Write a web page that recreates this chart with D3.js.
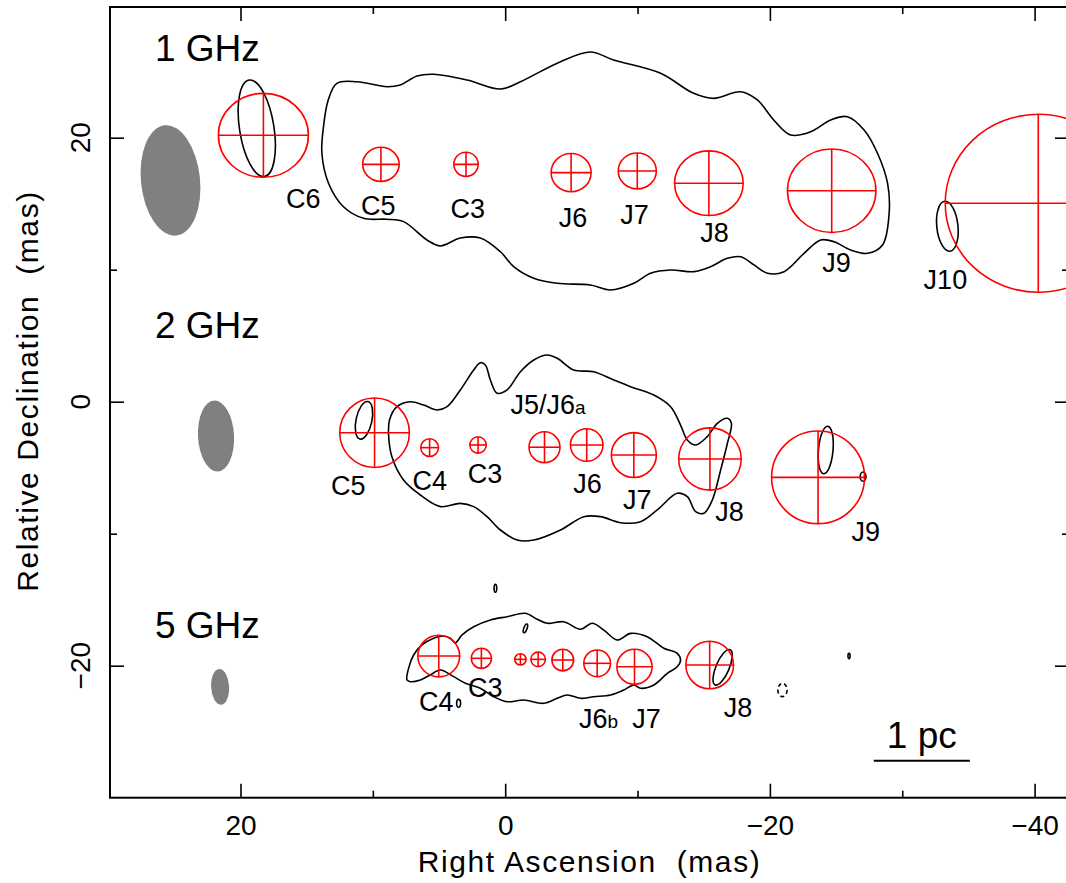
<!DOCTYPE html>
<html lang="en">
<head>
<meta charset="utf-8">
<title>components</title>
<script src="https://cdnjs.cloudflare.com/ajax/libs/d3/7.8.5/d3.min.js"></script>
<style>
body { margin:0; background:#fff; }
text { font-family: "Liberation Sans", Arial, Helvetica, sans-serif; }
</style>
</head>
<body>
<script>
// axis ranges in mas
var raRange = [29.86, -42.6]
var decRange = [-30, 29.9]
var xMajor = [20, 0, -20, -40]
var xMinor = [10, -10, -30]
var yMajor = [20, 0, -20]
var yMinor = [10, -10]

// panel titles
var panelText = ["1 GHz", "2 GHz", "5 GHz"]
var panelX = [26.46, 26.46, 26.46]
var panelY = [25.8, 4.83, -17.9]

// restoring beams: x, y, semi-minor, semi-major, PA (deg)
var beamX = [25.29, 21.85, 21.54]
var beamY = [16.76, -2.6, -21.6]
var beamMin = [2.23, 1.36, 0.68]
var beamMaj = [4.2, 2.69, 1.36]
var beamPA = [6, 3, 3]

// model components, 1 GHz
var c1Name = ["C6", "C5", "C3", "J6", "J7", "J8", "J9", "J10"]
var c1X = [18.27, 9.39, 2.96, -4.98, -9.98, -15.39, -24.67, -40.28]
var c1Y = [20.18, 17.98, 17.98, 17.35, 17.48, 16.55, 15.98, 15.03]
var c1Rx = [3.40, 1.38, 0.92, 1.51, 1.44, 2.59, 3.34, 7.03]
var c1Ry = [3.18, 1.29, 0.92, 1.45, 1.36, 2.45, 3.16, 6.74]
var l1X = [15.26, 9.59, 2.82, -5.12, -9.77, -15.82, -25.03, -33.26]
var l1Y = [15.43, 14.86, 14.64, 13.95, 14.18, 12.80, 10.55, 9.24]

// model components, 2 GHz
var c2Name = ["C5", "C4", "C3", "J5/J6_a", "J6", "J7", "J8", "J9"]
var c2X = [9.87, 5.71, 2.05, -2.97, -6.16, -9.72, -15.47, -23.64]
var c2Y = [-2.35, -3.48, -3.28, -3.45, -3.28, -4.04, -4.34, -5.73]
var c2R = [2.63, 0.67, 0.62, 1.17, 1.23, 1.70, 2.36, 3.51]
var l2X = [11.86, 5.70, 1.52, -3.23, -6.22, -9.98, -16.94, -27.25]
var l2Y = [-6.33, -5.93, -5.46, -0.17, -6.21, -7.39, -8.30, -9.85]

// model components, 5 GHz
var c5Name = ["C4", "C3", "", "", "", "J6_b", "J7", "J8"]
var c5X = [5.02, 1.80, -1.15, -2.49, -4.35, -6.95, -9.77, -15.45]
var c5Y = [-19.27, -19.44, -19.52, -19.52, -19.57, -19.82, -20.08, -19.95]
var c5R = [1.58, 0.76, 0.43, 0.55, 0.82, 1.01, 1.33, 1.80]
var l5X = [5.20, 1.50, null, null, null, -7.05, -10.68, -17.60]
var l5Y = [-22.67, -21.65, null, null, null, -23.96, -23.96, -23.17]

// lowest contour, 1 GHz
var contour1 = [[12.72,24.12],[11.20,24.24],[8.93,23.86],[7.93,23.99],[6.66,24.67],[5.41,24.80],
  [2.88,24.37],[0.36,23.69],[-1.15,24.24],[-4.18,25.76],[-6.44,26.49],[-8.18,25.89],[-11.74,24.88],
  [-14.24,23.36],[-15.75,22.98],[-17.79,23.48],[-19.05,22.86],[-20.29,21.34],[-21.57,20.20],
  [-23.09,20.45],[-24.60,21.34],[-25.86,21.59],[-27.12,20.58],[-28.13,18.82],[-28.89,16.55],
  [-29.01,14.27],[-28.51,11.87],[-27.38,11.24],[-26.11,11.49],[-24.85,12.12],[-23.84,12.25],
  [-22.58,11.24],[-21.07,9.85],[-19.81,9.73],[-18.80,10.36],[-17.79,10.98],[-16.79,10.86],
  [-15.52,10.23],[-14.26,9.85],[-12.50,9.98],[-10.98,9.73],[-9.72,8.97],[-7.96,8.46],[-6.44,8.84],
  [-3.93,8.97],[-2.16,9.35],[-0.64,10.23],[0.36,11.36],[1.88,12.40],[3.39,12.40],[4.90,11.80],
  [5.91,12.25],[7.68,13.64],[8.93,13.82],[10.70,13.89],[12.22,14.77],[13.35,16.55],[13.85,18.82],
  [13.73,20.83],[13.37,22.86]]

// lowest contour, 2 GHz
var contour2 = [[8.74,-1.39],[8.18,-0.38],[7.17,0.00],[6.16,-0.25],[5.15,-0.63],[4.39,-0.38],
  [3.39,0.89],[2.38,2.40],[1.88,2.95],[1.50,2.78],[1.12,1.64],[0.61,0.64],[-0.14,0.89],[-1.15,2.27],
  [-2.16,3.16],[-3.17,3.54],[-3.93,3.29],[-5.18,2.40],[-6.69,2.27],[-8.21,1.64],[-9.47,1.14],
  [-11.23,0.51],[-12.50,-0.38],[-13.25,-1.77],[-13.76,-2.90],[-14.39,-3.28],[-15.27,-2.65],
  [-16.03,-1.64],[-16.79,-1.26],[-17.09,-1.64],[-16.79,-3.15],[-16.28,-5.17],[-15.65,-7.45],
  [-15.02,-8.45],[-14.39,-8.33],[-13.76,-7.20],[-13.00,-6.94],[-11.49,-8.20],[-10.23,-9.09],
  [-8.71,-9.17],[-7.20,-8.71],[-5.94,-8.71],[-4.18,-9.72],[-2.16,-10.48],[-0.90,-10.48],
  [0.36,-9.72],[1.37,-8.71],[2.38,-7.95],[3.39,-7.70],[4.90,-7.95],[6.41,-7.07],[7.68,-5.93],
  [8.56,-4.17],[8.81,-2.52]]

// lowest contour, 5 GHz
var contour5 = [[7.42,-21.08],[7.30,-20.20],[6.92,-19.19],[6.29,-18.43],[5.41,-17.92],[4.65,-17.75],
  [4.15,-17.92],[3.77,-18.26],[3.26,-17.67],[2.38,-17.05],[1.12,-16.54],[-0.14,-16.29],[-1.53,-16.03],
  [-2.41,-16.48],[-3.17,-16.79],[-4.43,-16.67],[-5.69,-17.24],[-6.57,-16.79],[-7.45,-17.30],
  [-8.46,-18.05],[-9.47,-17.55],[-10.73,-17.80],[-11.99,-18.68],[-13.00,-19.06],[-13.25,-19.57],
  [-13.00,-20.08],[-12.25,-20.58],[-11.23,-21.46],[-10.23,-21.71],[-9.72,-21.46],[-8.96,-21.84],
  [-7.96,-22.22],[-6.69,-22.35],[-5.69,-22.47],[-4.68,-22.22],[-3.93,-22.47],[-2.91,-22.85],
  [-1.40,-22.60],[-0.14,-22.73],[0.87,-22.35],[1.88,-21.71],[3.01,-21.33],[3.90,-20.83],
  [4.90,-20.33],[5.66,-20.70],[6.41,-21.08],[7.17,-21.21]]

// small contour islands: x, y, semi-minor, semi-major, PA
var islX = [18.77, -33.41, 10.67, -24.22, -27.04, -16.43, 0.74, -1.53, 3.52, -20.95, -25.98]
var islY = [20.71, 13.29, -1.41, -3.66, -5.68, -20.12, -14.14, -17.17, -22.85, -21.84, -19.27]
var islMin = [1.3, 0.8, 0.6, 0.55, 0.22, 0.5, 0.1, 0.12, 0.15, 0.35, 0.08]
var islMaj = [3.7, 1.9, 1.45, 1.8, 0.35, 1.45, 0.3, 0.35, 0.3, 0.5, 0.2]
var islPA = [9, 6, -12, -5, 0, -23, 0, -20, 0, 0, 0]

// scale bar (1 pc)
var barX = [-27.85, -35.11]
var barY = -27.2

var W = 1066, H = 883
var L = 110, R = 1069, T = 7, B = 797.7

var svg = d3.select("body").append("svg").attr("width", W).attr("height", H)

var x = d3.scaleLinear().domain(raRange).range([L, R])
var y = d3.scaleLinear().domain(decRange).range([B, T])

svg.append("clipPath").attr("id", "clip").append("rect")
	.attr("x", L).attr("y", T).attr("width", R - L).attr("height", B - T)
var plot = svg.append("g").attr("clip-path", "url(#clip)")

// beams
plot.selectAll(".beam").data(beamX).enter().append("ellipse")
	.attr("class", "beam")
	.attr("transform", function(d, i) { return "translate(" + x(d) + "," + y(beamY[i]) + ") rotate(" + (-beamPA[i]) + ")" })
	.attr("rx", function(d, i) { return x(0) - x(beamMin[i]) })
	.attr("ry", function(d, i) { return y(0) - y(beamMaj[i]) })
	.attr("fill", "#808080")

// contours
var line = d3.line().x(function(d) { return x(d[0]) }).y(function(d) { return y(d[1]) })
	.curve(d3.curveCatmullRomClosed.alpha(0.5))
plot.selectAll(".cont").data([contour1, contour2, contour5]).enter().append("path")
	.attr("class", "cont").attr("d", line)
	.attr("fill", "none").attr("stroke", "#000").attr("stroke-width", 1.6)

plot.selectAll(".isl").data(islX).enter().append("ellipse")
	.attr("class", "isl")
	.attr("transform", function(d, i) { return "translate(" + x(d) + "," + y(islY[i]) + ") rotate(" + (-islPA[i]) + ")" })
	.attr("rx", function(d, i) { return x(0) - x(islMin[i]) })
	.attr("ry", function(d, i) { return y(0) - y(islMaj[i]) })
	.attr("fill", "none").attr("stroke", "#000").attr("stroke-width", 1.6)
	.attr("stroke-dasharray", function(d, i) { return i == 9 ? "4,3" : null })

// components
function comps(xs, ys, rxs, rys) {
	var g = plot.append("g").attr("stroke", "#ff0000").attr("fill", "none").attr("stroke-width", 1.6)
	xs.forEach(function(d, i) {
		var cx = x(d), cy = y(ys[i])
		var rx = x(0) - x(rxs[i]), ry = y(0) - y(rys[i])
		g.append("ellipse").attr("cx", cx).attr("cy", cy).attr("rx", rx).attr("ry", ry)
		g.append("line").attr("x1", cx - rx).attr("x2", cx + rx).attr("y1", cy).attr("y2", cy)
		g.append("line").attr("x1", cx).attr("x2", cx).attr("y1", cy - ry).attr("y2", cy + ry)
	})
}
comps(c1X, c1Y, c1Rx, c1Ry)
comps(c2X, c2Y, c2R, c2R)
comps(c5X, c5Y, c5R, c5R)

// component labels
function labels(names, xs, ys) {
	names.forEach(function(n, i) {
		if (!n) return
		var parts = n.split("_")
		var t = svg.append("text").attr("x", x(xs[i])).attr("y", y(ys[i])).attr("dy", "0.36em")
			.attr("text-anchor", "middle").attr("font-size", "27px").attr("fill", "#000")
		t.append("tspan").text(parts[0])
		if (parts[1]) t.append("tspan").attr("font-size", "19px").text(parts[1])
	})
}
labels(c1Name, l1X, l1Y)
labels(c2Name, l2X, l2Y)
labels(c5Name, l5X, l5Y)

// panel titles
svg.selectAll(".ptitle").data(panelText).enter().append("text")
	.attr("class", "ptitle")
	.attr("x", function(d, i) { return x(panelX[i]) })
	.attr("y", function(d, i) { return y(panelY[i]) })
	.attr("font-size", "37px").text(function(d) { return d })

// scale bar
svg.append("line").attr("x1", x(barX[0])).attr("x2", x(barX[1])).attr("y1", y(barY)).attr("y2", y(barY))
	.attr("stroke", "#000").attr("stroke-width", 2)
svg.append("text").attr("x", (x(barX[0]) + x(barX[1])) / 2).attr("y", y(barY) - 13)
	.attr("text-anchor", "middle").attr("font-size", "37px").text("1 pc")

// frame and ticks
svg.append("rect").attr("x", L).attr("y", T).attr("width", R - L).attr("height", B - T)
	.attr("fill", "none").attr("stroke", "#000").attr("stroke-width", 2)

function ticks(axis, tr) {
	var g = svg.append("g").attr("transform", tr).call(axis)
	g.select(".domain").remove()
	g.selectAll("line").attr("stroke-width", 1.6)
	return g
}
var gx = ticks(d3.axisBottom(x).tickValues(xMajor).tickSizeInner(-14).tickSizeOuter(0).tickPadding(17), "translate(0," + B + ")")
gx.selectAll("text").attr("font-size", "28px").attr("font-family", "Liberation Sans, Arial, sans-serif").attr("fill", "#000")
ticks(d3.axisBottom(x).tickValues(xMinor).tickSizeInner(-7).tickSizeOuter(0).tickFormat(""), "translate(0," + B + ")")
ticks(d3.axisTop(x).tickValues(xMajor).tickSizeInner(-14).tickSizeOuter(0).tickFormat(""), "translate(0," + T + ")")
ticks(d3.axisTop(x).tickValues(xMinor).tickSizeInner(-7).tickSizeOuter(0).tickFormat(""), "translate(0," + T + ")")
ticks(d3.axisLeft(y).tickValues(yMajor).tickSizeInner(-14).tickSizeOuter(0).tickFormat(""), "translate(" + L + ",0)")
ticks(d3.axisLeft(y).tickValues(yMinor).tickSizeInner(-7).tickSizeOuter(0).tickFormat(""), "translate(" + L + ",0)")
ticks(d3.axisRight(y).tickValues(yMajor).tickSizeInner(-14).tickSizeOuter(0).tickFormat(""), "translate(" + R + ",0)")
ticks(d3.axisRight(y).tickValues(yMinor).tickSizeInner(-7).tickSizeOuter(0).tickFormat(""), "translate(" + R + ",0)")

// rotated y tick labels
var fmt = y.tickFormat()
svg.selectAll(".ylab").data(yMajor).enter().append("text")
	.attr("class", "ylab")
	.attr("transform", function(d) { return "translate(90," + y(d) + ") rotate(-90)" })
	.attr("text-anchor", "middle").attr("font-size", "28px")
	.text(function(d) { return fmt(d) })

// axis titles
svg.append("text").attr("x", (L + R) / 2).attr("y", 872).attr("text-anchor", "middle")
	.attr("font-size", "30px").attr("letter-spacing", "1.6px")
	.text("Right Ascension  (mas)").style("white-space", "pre")
svg.append("text").attr("transform", "translate(38,391) rotate(-90)").attr("text-anchor", "middle")
	.attr("font-size", "30px").attr("letter-spacing", "1.6px")
	.text("Relative Declination  (mas)").style("white-space", "pre")
</script>
</body>
</html>
